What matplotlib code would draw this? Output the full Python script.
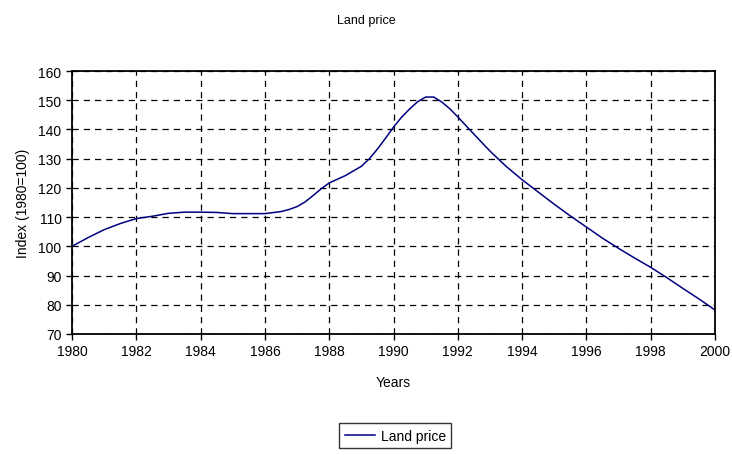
import matplotlib.pyplot as plt

plt.rcParams['font.family'] = ['Liberation Sans', 'DejaVu Sans']

# Readings of the land price index (1980=100), roughly every half year
anos = [1980, 1980.5, 1981, 1981.5, 1982, 1982.5, 1983, 1983.5, 1984, 1984.5,
        1985, 1985.5, 1986, 1986.5, 1986.75, 1987, 1987.25, 1987.5, 1987.75, 1988,
        1988.5, 1989, 1989.25, 1989.5, 1989.75, 1990, 1990.25, 1990.5, 1990.75,
        1991, 1991.25, 1991.5, 1991.75, 1992, 1992.5, 1993, 1993.5, 1994,
        1994.5, 1995, 1995.5, 1996, 1996.5, 1997, 1997.5, 1998, 1998.5, 1999,
        1999.5, 2000]
indice = [100, 103, 105.7, 107.8, 109.5, 110.3, 111.3, 111.7, 111.7, 111.6,
          111.2, 111.2, 111.2, 111.9, 112.6, 113.6, 115.2, 117.4, 119.7, 121.7,
          124.2, 127.4, 130, 133.3, 137, 140.8, 144.2, 147, 149.5,
          151.1, 151.1, 149.4, 147.1, 144.3, 138.4, 132.6, 127.4, 122.8,
          118.6, 114.4, 110.4, 106.6, 102.8, 99.3, 96, 92.8, 89.3, 85.6,
          82, 78.2]

xticks = list(range(1980, 2001, 2))
yticks = list(range(70, 161, 10))

fig = plt.figure(figsize=(7.32, 4.56), dpi=100)
ax = fig.add_axes([0.0984, 0.2654, 0.8784, 0.5766])

linha, = ax.plot(anos, indice, color='#000080', linewidth=1.1, label='Land price')

ax.set_xlim(1980, 2000)
ax.set_ylim(70, 160)
ax.set_xticks(xticks)
ax.set_yticks(yticks)
ax.tick_params(labelsize=10, length=4, width=1, direction='out')
ax.grid(True, color='black', linestyle=(0, (5, 4)), linewidth=0.9)
for s in ax.spines.values():
    s.set_linewidth(1.3)

ax.set_xlabel('Years', fontsize=10, labelpad=12)
ax.set_ylabel('Index (1980=100)', fontsize=10, labelpad=6)
fig.text(0.5, 0.955, 'Land price', ha='center', va='center', fontsize=9)

fig.legend(handles=[linha], loc='center', bbox_to_anchor=(0.54, 0.042),
           fontsize=10, frameon=True, fancybox=False, edgecolor='black',
           handlelength=2.2, handletextpad=0.4, borderpad=0.4)

fig.savefig('out.png', dpi=100)
